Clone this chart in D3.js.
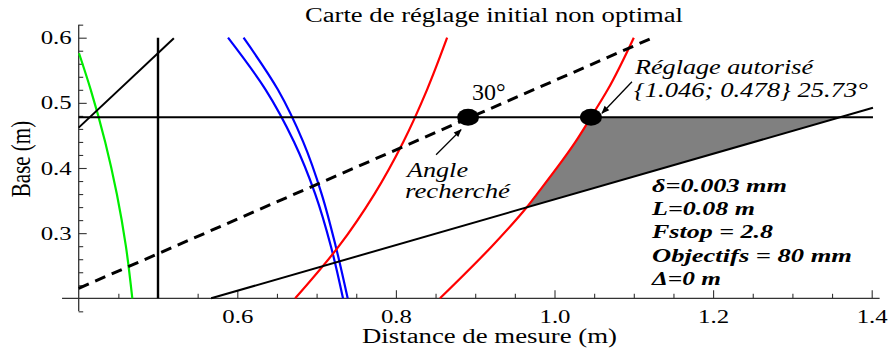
<!DOCTYPE html>
<html>
<head>
<meta charset="utf-8">
<script src="https://cdn.jsdelivr.net/npm/d3@7"></script>
<style>
  html, body { margin: 0; padding: 0; background: #fff; }
  svg { display: block; }
  text { font-family: "Liberation Serif", "Times New Roman", serif; fill: #000; }
  .axis line { stroke: #333; }
</style>
</head>
<body>
<svg id="chart" width="889" height="348"></svg>
<script>
// courbes (x = distance, y = base), en m, du haut vers le bas
const greenCurve = [[0.4004, 0.5761], [0.4152, 0.52], [0.4334, 0.44], [0.4481, 0.36], [0.4595, 0.28], [0.4676, 0.2]];
const blueOuter = [[0.5883, 0.6], [0.6358, 0.52], [0.6716, 0.44], [0.6983, 0.36], [0.718, 0.28], [0.7333, 0.2]];
const blueInner = [[0.6079, 0.6], [0.6513, 0.52], [0.6831, 0.44], [0.7064, 0.36], [0.7241, 0.28], [0.7392, 0.2]];
const redLeft = [[0.8646, 0.6], [0.8392, 0.52], [0.8093, 0.44], [0.7729, 0.36], [0.7281, 0.28], [0.673, 0.2]];
const redRight = [[1.1, 0.6], [1.067, 0.52], [1.046, 0.478], [1.0264, 0.44], [0.9779, 0.36], [0.965, 0.3398],
  [0.9211, 0.28], [0.8556, 0.2]];
const lineTopLeft = [[0.4, 0.462], [0.52, 0.599]];
const lineVertical = [[0.5, 0.2], [0.5, 0.6]];
const lineBase = [[0.4, 0.478], [1.4016, 0.478]];
const lineLower = [[0.567, 0.2], [1.4016, 0.4925]];
const lineDashed = [[0.4, 0.2153], [1.124, 0.6]];
// zone grise : bord rouge (haut -> bas) puis coin sur la droite de base
const shadeEdge = [[1.046, 0.478], [1.0264, 0.44], [0.9779, 0.36], [0.965, 0.3398]];
const shadeCorner = [1.36, 0.478];
const dots = [[0.891, 0.478], [1.046, 0.478]];

const xMajor = [0.6, 0.8, 1.0, 1.2, 1.4];
const xMinor = [0.45, 0.5, 0.55, 0.65, 0.7, 0.75, 0.85, 0.9, 0.95, 1.05, 1.1, 1.15, 1.25, 1.3, 1.35];
const yMajor = [0.3, 0.4, 0.5, 0.6];
const yMinor = [0.18, 0.22, 0.24, 0.26, 0.28, 0.32, 0.34, 0.36, 0.38, 0.42, 0.44, 0.46, 0.48,
  0.52, 0.54, 0.56, 0.58, 0.62];

const titre = "Carte de réglage initial non optimal";
const xLabel = "Distance de mesure (m)";
const yLabel = "Base (m)";
const angleLabel = ["Angle", "recherché"];
const reglageLabel = ["Réglage autorisé", "{1.046; 0.478} 25.73°"];
const params = ["δ=0.003 mm", "L=0.08 m", "Fstop = 2.8", "Objectifs = 80 mm", "Δ=0 m"];
const paramWidths = [135, 103, 121, 200, 69];

const svg = d3.select("#chart");
const x = d3.scaleLinear().domain([0.4, 1.4]).range([78.7, 871.7]);
const y = d3.scaleLinear().domain([0.2, 0.6]).range([298.3, 37.7]);

// le texte de l'original est étiré horizontalement -> textLength
function stretch(sel, w) {
  return sel.attr("textLength", w).attr("lengthAdjust", "spacingAndGlyphs");
}

// axes
const gx = svg.append("g").attr("class", "axis").attr("transform", `translate(0,${y(0.2)})`);
gx.append("g").call(d3.axisBottom(x).tickValues(xMinor).tickSize(-4.5).tickFormat(""));
gx.append("g").call(d3.axisBottom(x).tickValues(xMajor).tickSize(-8).tickPadding(11).tickFormat(d3.format(".1f")));
gx.selectAll(".domain").remove();
gx.append("line").attr("x1", x(0.379)).attr("x2", x(1.41)).attr("stroke", "#333").attr("stroke-width", 1.3);

const gy = svg.append("g").attr("class", "axis").attr("transform", `translate(${x(0.4)},0)`);
gy.append("g").call(d3.axisLeft(y).tickValues(yMinor).tickSize(-4.5).tickFormat(""));
gy.append("g").call(d3.axisLeft(y).tickValues(yMajor).tickSize(-8).tickPadding(7).tickFormat(d3.format(".1f")));
gy.selectAll(".domain").remove();
gy.append("line").attr("y1", y(0.18)).attr("y2", y(0.62)).attr("stroke", "#333").attr("stroke-width", 1.3);
svg.selectAll(".axis .tick line").attr("stroke-width", 1.1);
svg.selectAll(".axis text").attr("font-family", "Liberation Serif").attr("font-size", 19).attr("fill", "#000");
stretch(svg.selectAll(".axis text"), 31);

const line = d3.line().x(d => x(d[0])).y(d => y(d[1]));
const smooth = d3.line().x(d => x(d[0])).y(d => y(d[1])).curve(d3.curveMonotoneY);

// zone autorisée
svg.append("path").attr("d", smooth(shadeEdge) + "L" + x(shadeCorner[0]) + "," + y(shadeCorner[1]) + "Z")
  .attr("fill", "#808080").attr("stroke", "none");

const curves = [
  { pts: greenCurve, color: "#00ee00" },
  { pts: blueOuter, color: "#0000ff" },
  { pts: blueInner, color: "#0000ff" },
  { pts: redLeft, color: "#ff0000" },
  { pts: redRight, color: "#ff0000" },
];
curves.forEach(c => {
  svg.append("path").attr("d", smooth(c.pts)).attr("fill", "none")
    .attr("stroke", c.color).attr("stroke-width", 2.2);
});

[lineTopLeft, lineBase, lineLower].forEach(l => {
  svg.append("path").attr("d", line(l)).attr("fill", "none").attr("stroke", "#000").attr("stroke-width", 2);
});
svg.append("path").attr("d", line(lineVertical)).attr("fill", "none").attr("stroke", "#000").attr("stroke-width", 2.4);
svg.append("path").attr("d", line(lineDashed)).attr("fill", "none").attr("stroke", "#000")
  .attr("stroke-width", 3).attr("stroke-dasharray", "11,7");

svg.selectAll("ellipse.dot").data(dots).enter().append("ellipse")
  .attr("class", "dot").attr("cx", d => x(d[0])).attr("cy", d => y(d[1]))
  .attr("rx", 11).attr("ry", 8.5).attr("fill", "#000");

// flèches
svg.append("defs").append("marker").attr("id", "arr").attr("viewBox", "0 0 10 10")
  .attr("refX", 9).attr("refY", 5).attr("markerWidth", 9).attr("markerHeight", 8)
  .attr("markerUnits", "userSpaceOnUse").attr("orient", "auto")
  .append("path").attr("d", "M0,1 L10,5 L0,9 z").attr("fill", "#000");

const d1 = dots[0], d2 = dots[1];
svg.append("line").attr("x1", x(d1[0]) - 32).attr("y1", y(d1[1]) + 37.5)
  .attr("x2", x(d1[0]) - 7).attr("y2", y(d1[1]) + 12.5)
  .attr("stroke", "#000").attr("stroke-width", 1.3).attr("marker-end", "url(#arr)");
svg.append("line").attr("x1", x(d2[0]) + 41).attr("y1", y(d2[1]) - 35.5)
  .attr("x2", x(d2[0]) + 11).attr("y2", y(d2[1]) - 4)
  .attr("stroke", "#000").attr("stroke-width", 1.3).attr("marker-end", "url(#arr)");

// textes
stretch(svg.append("text").attr("x", 305).attr("y", 22).attr("font-size", 20).text(titre), 378);
stretch(svg.append("text").attr("x", 362).attr("y", 343).attr("font-size", 20).text(xLabel), 255);
svg.append("text").attr("transform", "translate(30,159) scale(1.3,1) rotate(-90)").attr("text-anchor", "middle")
  .attr("font-size", 21).text(yLabel);

svg.append("text").attr("x", 472).attr("y", 100).attr("font-size", 24).text("30°");
stretch(svg.append("text").attr("x", 407).attr("y", 177).attr("font-size", 22)
  .attr("font-style", "italic").text(angleLabel[0]), 61);
stretch(svg.append("text").attr("x", 405).attr("y", 197.5).attr("font-size", 22)
  .attr("font-style", "italic").text(angleLabel[1]), 105);
stretch(svg.append("text").attr("x", 635).attr("y", 74).attr("font-size", 22)
  .attr("font-style", "italic").text(reglageLabel[0]), 178);
stretch(svg.append("text").attr("x", 634).attr("y", 97).attr("font-size", 22)
  .attr("font-style", "italic").text(reglageLabel[1]), 234);

svg.selectAll("text.param").data(params).enter().append("text").attr("class", "param")
  .attr("x", 652).attr("y", (d, i) => 191.7 + i * 23.3)
  .attr("font-size", 19).attr("font-weight", "bold").attr("font-style", "italic")
  .attr("textLength", (d, i) => paramWidths[i]).attr("lengthAdjust", "spacingAndGlyphs")
  .text(d => d);
</script>
</body>
</html>
